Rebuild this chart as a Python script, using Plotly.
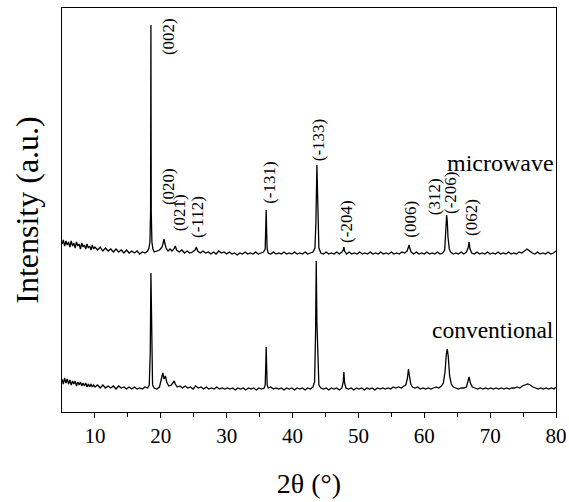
import plotly.graph_objects as go

# ---------------- data ----------------
mw_2theta = [
    5.0, 5.2, 5.4, 5.6, 5.8, 6.0, 6.2, 6.4, 6.6, 6.8, 7.0, 7.2, 7.4, 7.6, 7.8, 8.0, 8.2, 8.4, 8.6, 8.8,
    9.0, 9.2, 9.4, 9.6, 9.8, 10.0, 10.4, 10.8, 11.2, 11.6, 12.0, 12.4, 12.8, 13.2, 13.6, 14.0, 14.4,
    14.8, 15.2, 15.6, 16.0, 16.4, 16.8, 17.2, 17.6, 18.0, 18.2, 18.35, 18.45, 18.5, 18.55, 18.65, 18.8,
    19.0, 19.4, 19.8, 20.2, 20.4, 20.5, 20.6, 20.8, 21.1, 21.4, 21.7, 22.0, 22.2, 22.4, 22.8, 23.2,
    23.6, 24.0, 24.4, 24.8, 25.2, 25.4, 25.6, 26.0, 26.4, 26.8, 27.2, 27.6, 28.0, 28.4, 28.8, 29.2,
    29.6, 30.0, 30.4, 30.8, 31.2, 31.6, 32.0, 32.4, 32.8, 33.2, 33.6, 34.0, 34.4, 34.8, 35.2, 35.6,
    35.85, 35.95, 36.0, 36.05, 36.15, 36.3, 36.7, 37.1, 37.5, 37.9, 38.3, 38.7, 39.1, 39.5, 39.9,
    40.3, 40.7, 41.1, 41.5, 41.9, 42.3, 42.7, 43.1, 43.4, 43.55, 43.7, 43.85, 44.0, 44.3, 44.7, 45.1,
    45.5, 45.9, 46.3, 46.7, 47.1, 47.5, 47.7, 47.8, 47.9, 48.2, 48.6, 49.0, 49.4, 49.8, 50.2, 50.6,
    51.0, 51.4, 51.8, 52.2, 52.6, 53.0, 53.4, 53.8, 54.2, 54.6, 55.0, 55.4, 55.8, 56.2, 56.6, 57.0,
    57.4, 57.6, 57.7, 57.8, 58.0, 58.4, 58.8, 59.2, 59.6, 60.0, 60.4, 60.8, 61.2, 61.6, 62.0, 62.4,
    62.8, 63.1, 63.25, 63.4, 63.5, 63.6, 63.8, 64.0, 64.4, 64.8, 65.2, 65.6, 66.0, 66.4, 66.65, 66.8,
    66.95, 67.2, 67.6, 68.0, 68.4, 68.8, 69.2, 69.6, 70.0, 70.4, 70.8, 71.2, 71.6, 72.0, 72.4, 72.8,
    73.2, 73.6, 74.0, 74.4, 74.8, 75.2, 75.6, 76.0, 76.4, 76.8, 77.2, 77.6, 78.0, 78.4, 78.8, 79.2,
    79.6, 80.0,
]
mw_intensity = [
    168, 172, 166, 171, 167, 170, 165, 171, 166, 169, 164, 170, 166, 168, 163, 169, 165, 167, 163, 168,
    164, 166, 162, 167, 163, 165, 162, 165, 161, 164, 161, 163, 160, 163, 160, 162, 159,
    162, 159, 161, 159, 161, 158, 160, 159, 161, 164, 170, 200, 387, 200, 170, 163,
    160, 161, 162, 165, 171, 173, 169, 164, 161, 163, 161, 163, 166, 162, 160, 162,
    159, 161, 159, 160, 162, 165, 161, 159, 161, 159, 160, 158, 160, 158, 161, 159,
    160, 158, 160, 158, 159, 157, 159, 158, 160, 158, 159, 158, 160, 158, 159, 160,
    163, 185, 202, 185, 163, 159, 158, 160, 158, 159, 158, 160, 158, 159, 158,
    160, 158, 159, 158, 160, 158, 159, 160, 164, 190, 247, 190, 164, 159, 158, 160,
    158, 159, 158, 160, 158, 160, 162, 165, 161, 158, 160, 158, 159, 158, 160, 158,
    159, 158, 160, 158, 159, 158, 160, 158, 159, 158, 160, 158, 159, 158, 160, 159,
    161, 165, 167, 164, 160, 158, 160, 158, 159, 158, 160, 158, 159, 158, 160, 158,
    159, 162, 178, 197, 190, 175, 163, 160, 158, 159, 158, 160, 158, 160, 164, 170,
    163, 159, 158, 160, 158, 159, 158, 160, 158, 159, 158, 160, 158, 159, 158, 160,
    158, 159, 158, 160, 159, 161, 163, 161, 159, 158, 160, 158, 159, 158, 160, 158,
    159, 161,
]

conv_2theta = [
    5.0, 5.2, 5.4, 5.6, 5.8, 6.0, 6.2, 6.4, 6.6, 6.8, 7.0, 7.2, 7.4, 7.6, 7.8, 8.0, 8.2, 8.4, 8.6, 8.8,
    9.0, 9.2, 9.4, 9.6, 9.8, 10.0, 10.4, 10.8, 11.2, 11.6, 12.0, 12.4, 12.8, 13.2, 13.6, 14.0, 14.4,
    14.8, 15.2, 15.6, 16.0, 16.4, 16.8, 17.2, 17.6, 18.0, 18.25, 18.4, 18.5, 18.6, 18.75, 19.0, 19.4,
    19.8, 20.1, 20.3, 20.5, 20.7, 20.9, 21.2, 21.6, 21.9, 22.05, 22.2, 22.5, 22.9, 23.3, 23.7, 24.1,
    24.5, 24.9, 25.3, 25.7, 26.1, 26.5, 26.9, 27.3, 27.7, 28.1, 28.5, 28.9, 29.3, 29.7, 30.1, 30.5,
    30.9, 31.3, 31.7, 32.1, 32.5, 32.9, 33.3, 33.7, 34.1, 34.5, 34.9, 35.3, 35.7, 35.85, 35.95, 36.0,
    36.05, 36.15, 36.3, 36.7, 37.1, 37.5, 37.9, 38.3, 38.7, 39.1, 39.5, 39.9, 40.3, 40.7, 41.1, 41.5,
    41.9, 42.3, 42.7, 43.1, 43.35, 43.5, 43.6, 43.7, 43.85, 44.0, 44.3, 44.7, 45.1, 45.5, 45.9, 46.3,
    46.7, 47.1, 47.5, 47.7, 47.8, 47.9, 48.1, 48.5, 48.9, 49.3, 49.7, 50.1, 50.5, 50.9, 51.3, 51.7,
    52.1, 52.5, 52.9, 53.3, 53.7, 54.1, 54.5, 54.9, 55.3, 55.7, 56.1, 56.5, 56.9, 57.2, 57.45, 57.6,
    57.75, 57.95, 58.2, 58.6, 59.0, 59.4, 59.8, 60.2, 60.6, 61.0, 61.4, 61.8, 62.2, 62.6, 62.9, 63.15,
    63.35, 63.5, 63.65, 63.85, 64.1, 64.4, 64.8, 65.2, 65.6, 66.0, 66.4, 66.6, 66.8, 67.0, 67.3, 67.7,
    68.1, 68.5, 68.9, 69.3, 69.7, 70.1, 70.5, 70.9, 71.3, 71.7, 72.1, 72.5, 72.9, 73.3, 73.7, 74.1,
    74.5, 74.9, 75.3, 75.7, 76.1, 76.5, 76.9, 77.3, 77.7, 78.1, 78.5, 78.9, 79.3, 79.7, 80.0,
]
conv_intensity = [
    33, 28, 34, 29, 33, 28, 32, 27, 31, 28, 31, 26, 30, 27, 30, 26, 29, 26, 29, 25,
    28, 25, 28, 25, 27, 25, 27, 24, 27, 24, 26, 24, 26, 23, 26, 24, 25,
    23, 25, 23, 25, 23, 24, 23, 25, 24, 27, 60, 139, 60, 27, 24, 23,
    25, 32, 39, 33, 36, 30, 26, 27, 29, 31, 28, 25, 26, 24, 26, 24,
    25, 23, 26, 24, 25, 23, 25, 23, 24, 23, 25, 23, 24, 23, 24, 23,
    24, 22, 24, 23, 24, 22, 24, 23, 24, 22, 24, 23, 24, 27, 50, 65,
    50, 27, 24, 25, 23, 24, 23, 24, 22, 24, 23, 24, 22, 24, 23, 24,
    22, 24, 23, 25, 30, 80, 151, 90, 40, 27, 24, 23, 24, 22, 24, 23,
    24, 22, 24, 30, 40, 29, 24, 23, 24, 22, 24, 23, 24, 22, 24, 23,
    24, 22, 24, 23, 24, 23, 24, 23, 25, 24, 25, 24, 26, 27, 34, 43,
    36, 28, 25, 24, 25, 23, 24, 23, 24, 23, 24, 25, 24, 26, 29, 40,
    58, 63, 55, 36, 28, 25, 24, 23, 24, 24, 25, 29, 35, 29, 25, 24,
    23, 24, 23, 24, 23, 24, 23, 24, 23, 24, 23, 24, 23, 24, 24, 25,
    24, 26, 27, 28, 27, 25, 24, 23, 24, 23, 24, 23, 24, 23, 25,
]

hkl_labels = ["(002)", "(020)", "(021)", "(-112)", "(-131)", "(-133)", "(-204)",
              "(006)", "(312)", "(-206)", "(062)"]
hkl_x = [21.1, 21.1, 22.8, 25.5, 36.4, 43.9, 48.1, 57.8, 61.5, 63.9, 67.1]
hkl_y = [375, 225, 199, 195, 229, 272, 190, 193, 215, 219, 194]

x_ticks = [10, 20, 30, 40, 50, 60, 70, 80]

FONT = "Liberation Serif"

fig = go.Figure()
fig.add_trace(go.Scatter(x=mw_2theta, y=mw_intensity, mode="lines",
                         line=dict(color="black", width=1.3), name="microwave",
                         showlegend=False))
fig.add_trace(go.Scatter(x=conv_2theta, y=conv_intensity, mode="lines",
                         line=dict(color="black", width=1.3), name="conventional",
                         showlegend=False))

for lab, xv, yv in zip(hkl_labels, hkl_x, hkl_y):
    fig.add_annotation(x=xv, y=yv, text=lab, textangle=-90, showarrow=False,
                       font=dict(family=FONT, size=17, color="black"),
                       xanchor="center", yanchor="middle")

fig.add_annotation(x=80.0, y=249, text="microwave", showarrow=False, xanchor="right",
                   yanchor="middle", font=dict(family=FONT, size=24, color="black"))
fig.add_annotation(x=80.0, y=82, text="conventional", showarrow=False, xanchor="right",
                   yanchor="middle", font=dict(family=FONT, size=23.5, color="black"))

fig.update_layout(
    width=569, height=502,
    margin=dict(l=62, r=13, t=8, b=90),
    paper_bgcolor="white", plot_bgcolor="white",
    font=dict(family=FONT, color="black"),
    xaxis=dict(range=[5, 80], tickvals=x_ticks, ticks="outside", ticklen=5,
               tickcolor="black", showline=True, linecolor="black", linewidth=1,
               mirror=True, showgrid=False, zeroline=False, automargin=False,
               tickfont=dict(family=FONT, size=21, color="black"),
               minor=dict(tickvals=[15, 25, 35, 45, 55, 65, 75], ticks="outside",
                          ticklen=4, tickcolor="black"),
               title=dict(text="2θ (°)", font=dict(family=FONT, size=28, color="black"),
                          standoff=26)),
    yaxis=dict(range=[0, 404], showticklabels=False, ticks="", showline=True,
               linecolor="black", linewidth=1, mirror=True, showgrid=False,
               zeroline=False, automargin=False,
               title=dict(text="Intensity (a.u.)",
                          font=dict(family=FONT, size=32, color="black"),
                          standoff=12)),
)

# remove the default page margin so the figure fills the window exactly
fig.write_html("out.html",
               config={"displayModeBar": False},
               post_script="document.body.style.margin='0';document.body.style.overflow='hidden';")
